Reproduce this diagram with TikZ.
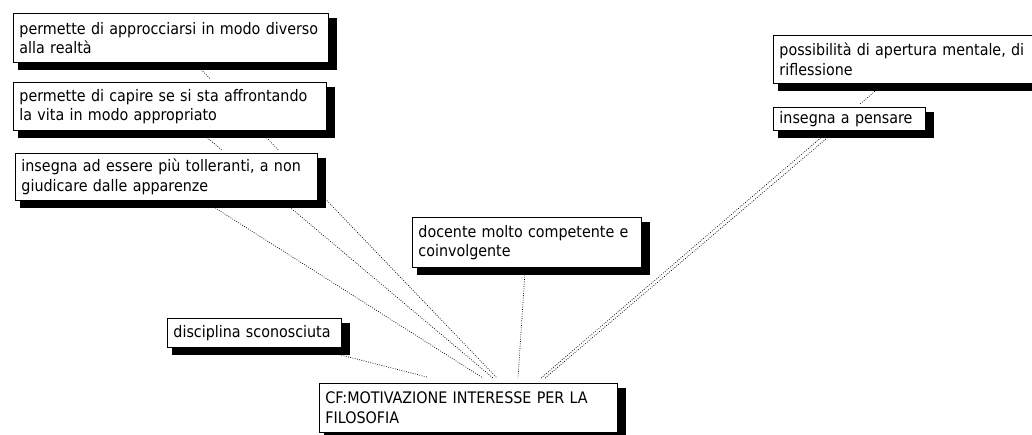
\documentclass[tikz,border=0pt]{standalone}
\usepackage{fontspec}
\newfontfamily\cardfont{DejaVu Sans Condensed}
\pgfdeclarelayer{links}
\pgfdeclarelayer{under}
\pgfsetlayers{links,under,main}
\tikzset{
  card/.style={draw=black, line width=0.9pt, fill=white, anchor=north west,
    align=left, inner xsep=6pt, inner ysep=0pt,
    font=\cardfont\fontsize{15.9}{19.5}\selectfont},
  link/.style={draw=black, line width=0.7pt, dash pattern=on 0.8pt off 1.5pt},
}
\begin{document}
\begin{tikzpicture}[x=1pt,y=-1pt]
\useasboundingbox (0,0) rectangle (1032,434);
\clip (0,0) rectangle (1032,434);

% concept boxes
\node[card, minimum width=313pt, minimum height=49pt, text width=303pt] (A) at (13,13)
  {permette di approcciarsi in modo diverso\\alla realtà};
\node[card, minimum width=311pt, minimum height=48pt, text width=301pt] (B) at (13,82)
  {permette di capire se si sta affrontando\\la vita in modo appropriato};
\node[card, minimum width=300pt, minimum height=47pt, text width=290pt] (C) at (15,153)
  {insegna ad essere più tolleranti, a non\\giudicare dalle apparenze};
\node[card, minimum width=227pt, minimum height=50pt, text width=217pt] (D) at (412,217)
  {docente molto competente e\\coinvolgente};
\node[card, minimum width=172pt, minimum height=29pt, text width=162pt] (E) at (167,318)
  {disciplina sconosciuta};
\node[card, minimum width=296pt, minimum height=49pt, text width=286pt] (F) at (319,383)
  {CF:MOTIVAZIONE INTERESSE PER LA\\FILOSOFIA};
\node[card, minimum width=275pt, minimum height=48pt, text width=265pt] (G) at (773,35)
  {possibilità di apertura mentale, di\\riflessione};
\node[card, minimum width=150pt, minimum height=23pt, text width=140pt] (H) at (773,107)
  {insegna a pensare};

% white margin and drop shadow of every box
\begin{pgfonlayer}{under}
\foreach \n in {A,B,C,D,E,F,G,H} {
  \fill[white] ([shift={(-3,-3)}]\n.north west) rectangle ([shift={(3,3)}]\n.south east);
  \fill[black] ([shift={(5,5)}]\n.north west) rectangle ([shift={(8,7)}]\n.south east);
}
\end{pgfonlayer}

% dotted links towards the central concept
\begin{pgfonlayer}{links}
\coordinate (fA) at (497,378);
\coordinate (fB) at (493,378);
\coordinate (fC) at (483,378);
\coordinate (fD) at (518,378);
\coordinate (fE) at (427,377);
\coordinate (fG) at (541,378);
\coordinate (fH) at (545,378);
\draw[link] (A.center) -- (fA);
\draw[link] (B.center) -- (fB);
\draw[link] (C.center) -- (fC);
\draw[link] (D.center) -- (fD);
\draw[link] (E.center) -- (fE);
\draw[link] (fG) -- (G.center);
\draw[link] (fH) -- (H.center);
\end{pgfonlayer}
\end{tikzpicture}
\end{document}
